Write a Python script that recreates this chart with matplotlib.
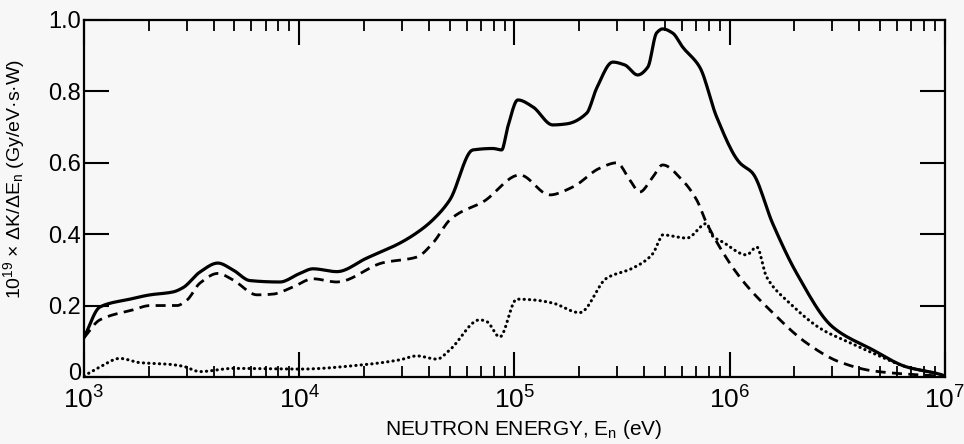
import numpy as np
import matplotlib
matplotlib.use("Agg")
import matplotlib.pyplot as plt
from matplotlib.ticker import FixedLocator, NullFormatter
from matplotlib.transforms import ScaledTranslation

plt.rcParams['font.family'] = ['Liberation Sans', 'DejaVu Sans']
plt.rcParams['mathtext.fontset'] = 'custom'
plt.rcParams['mathtext.rm'] = 'Liberation Sans'
plt.rcParams['mathtext.it'] = 'Liberation Sans'

# log10 of neutron energy (eV) and kerma values
solid_logE = [3.000, 3.074, 3.214, 3.307, 3.413, 3.460, 3.539, 3.622, 3.692, 3.771,
              3.910, 4.003, 4.064, 4.175, 4.314, 4.468, 4.561, 4.621, 4.700, 4.807,
              4.900, 4.941, 4.969, 5.016, 5.085, 5.178, 5.243, 5.336, 5.383, 5.457,
              5.513, 5.573, 5.620, 5.661, 5.689, 5.736, 5.782, 5.861, 5.940, 6.047,
              6.107, 6.200, 6.312, 6.479, 6.665, 6.823, 6.962, 7.000]
solid_val = [0.11, 0.196, 0.218, 0.23, 0.238, 0.25, 0.294, 0.319, 0.30, 0.27,
             0.266, 0.29, 0.303, 0.295, 0.333, 0.375, 0.41, 0.44, 0.496, 0.636,
             0.64, 0.636, 0.70, 0.776, 0.757, 0.706, 0.709, 0.739, 0.81, 0.882,
             0.874, 0.846, 0.868, 0.964, 0.975, 0.963, 0.924, 0.868, 0.728, 0.60,
             0.571, 0.43, 0.29, 0.14, 0.076, 0.028, 0.01, 0.003]

dashed_logE = [3.000, 3.074, 3.228, 3.307, 3.432, 3.478, 3.539, 3.622, 3.692, 3.804,
               3.878, 3.971, 4.064, 4.175, 4.389, 4.547, 4.621, 4.700, 4.746, 4.853,
               5.025, 5.164, 5.271, 5.397, 5.476, 5.536, 5.582, 5.643, 5.689, 5.782,
               5.847, 5.894, 6.047, 6.200, 6.358, 6.511, 6.665, 6.823, 7.000]
dashed_val = [0.11, 0.16, 0.188, 0.20, 0.20, 0.215, 0.263, 0.29, 0.272, 0.23,
              0.232, 0.252, 0.275, 0.266, 0.32, 0.336, 0.375, 0.44, 0.46, 0.49,
              0.566, 0.51, 0.532, 0.585, 0.60, 0.552, 0.518, 0.56, 0.594, 0.55,
              0.496, 0.43, 0.28, 0.18, 0.095, 0.042, 0.017, 0.008, 0.002]

dotted_logE = [3.000, 3.074, 3.167, 3.260, 3.386, 3.460, 3.539, 3.692, 4.003, 4.296,
               4.468, 4.547, 4.640, 4.700, 4.839, 4.872, 4.932, 5.011, 5.085, 5.178,
               5.304, 5.429, 5.550, 5.643, 5.675, 5.689, 5.801, 5.894, 5.917, 5.968,
               6.079, 6.126, 6.172, 6.279, 6.432, 6.544, 6.665, 6.823, 6.962, 7.000]
dotted_val = [0.003, 0.028, 0.052, 0.04, 0.036, 0.03, 0.015, 0.024, 0.022, 0.034,
              0.048, 0.059, 0.05, 0.076, 0.16, 0.155, 0.112, 0.218, 0.216, 0.207,
              0.18, 0.277, 0.305, 0.345, 0.385, 0.398, 0.389, 0.43, 0.397, 0.378,
              0.342, 0.364, 0.28, 0.207, 0.132, 0.10, 0.067, 0.028, 0.01, 0.005]

x_major = [1e3, 1e4, 1e5, 1e6, 1e7]
x_major_labels = [r'$\mathregular{10^3}$', r'$\mathregular{10^4}$', r'$\mathregular{10^5}$',
                  r'$\mathregular{10^6}$', r'$\mathregular{10^7}$']
y_ticks = [0, 0.2, 0.4, 0.6, 0.8, 1.0]
y_tick_labels = ['0', '0.2', '0.4', '0.6', '0.8', '1.0']


def pchip_render(x, y, n=12):
    """Smooth monotone-cubic rendering through the read points (drawing only)."""
    x = np.asarray(x, float)
    y = np.asarray(y, float)
    h = np.diff(x)
    d = np.diff(y) / h
    m = np.zeros_like(y)
    for k in range(1, len(x) - 1):
        if d[k - 1] * d[k] > 0:
            w1 = 2 * h[k] + h[k - 1]
            w2 = h[k] + 2 * h[k - 1]
            m[k] = (w1 + w2) / (w1 / d[k - 1] + w2 / d[k])
    m[0] = d[0]
    m[-1] = d[-1]
    xs, ys = [], []
    for k in range(len(x) - 1):
        t = np.linspace(0, 1, n, endpoint=False)
        h00 = 2 * t**3 - 3 * t**2 + 1
        h10 = t**3 - 2 * t**2 + t
        h01 = -2 * t**3 + 3 * t**2
        h11 = t**3 - t**2
        xs.append(x[k] + t * h[k])
        ys.append(h00 * y[k] + h10 * h[k] * m[k] + h01 * y[k + 1] + h11 * h[k] * m[k + 1])
    xs.append([x[-1]])
    ys.append([y[-1]])
    return 10.0 ** np.concatenate(xs), np.concatenate(ys)


bg = '#f7f7f7'
fig = plt.figure(figsize=(9.64, 4.44), dpi=100, facecolor=bg)
ax = fig.add_axes([0.0871, 0.151, 0.893, 0.804], facecolor=bg)

ax.plot(*pchip_render(solid_logE, solid_val), color='black', lw=2.3,
        solid_joinstyle='round', solid_capstyle='round')
ax.plot(*pchip_render(dashed_logE, dashed_val), color='black', lw=2.0, dashes=(3.6, 2.3))
ax.plot(*pchip_render(dotted_logE, dotted_val), color='black', lw=2.2, dashes=(0.1, 1.65),
        dash_capstyle='round')

ax.set_xscale('log')
ax.set_xlim(1e3, 1e7)
ax.set_ylim(0, 1.0)

ax.xaxis.set_major_locator(FixedLocator(x_major))
ax.set_xticklabels(x_major_labels)
minor = [m * 10 ** d for d in range(3, 7) for m in range(2, 10)]
ax.xaxis.set_minor_locator(FixedLocator(minor))
ax.xaxis.set_minor_formatter(NullFormatter())
ax.set_yticks(y_ticks)
ax.set_yticklabels(y_tick_labels)

ax.tick_params(axis='x', which='major', direction='in', length=18, width=1.5,
               top=True, bottom=True, labelsize=19, pad=7)
ax.tick_params(axis='x', which='minor', direction='in', length=8, width=1.3,
               top=True, bottom=True)
ax.tick_params(axis='y', which='major', direction='in', length=18, width=1.5,
               left=True, right=True, labelsize=17, pad=2)

# nudge the "0" label up a little so it clears the 10^3 label
zero_lbl = ax.yaxis.get_major_ticks()[0].label1
zero_lbl.set_transform(zero_lbl.get_transform() +
                       ScaledTranslation(0, 4 / 72, fig.dpi_scale_trans))

for s in ax.spines.values():
    s.set_linewidth(1.6)

ax.set_xlabel(r'NEUTRON ENERGY, E$_\mathregular{n}$ (eV)', fontsize=15)
ax.xaxis.set_label_coords(0.511, -0.162)
ax.xaxis.label.set_va('baseline')
ax.set_ylabel(r'10$^{\mathregular{19}}$ × ΔK/ΔE$_\mathregular{n}$ (Gy/eV·s·W)',
              fontsize=14)
ax.yaxis.set_label_coords(-0.066, 0.555)

fig.savefig('out.png', dpi=100, facecolor=bg)
